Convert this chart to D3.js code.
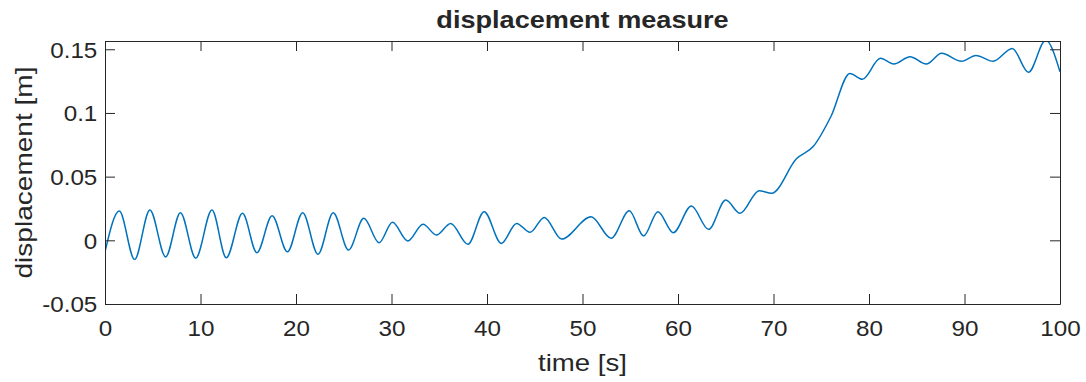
<!DOCTYPE html>
<html>
<head>
<meta charset="utf-8">
<script src="https://cdn.jsdelivr.net/npm/d3@7"></script>
<style>
  body { margin: 0; background: #fff; }
  text { font-family: "Liberation Sans", Arial, sans-serif; fill: #262626; }
</style>
</head>
<body>
<div id="chart-container"></div>
<script>
// time [s] of the read-off turning points of the curve
var times = [0, 1.5, 3.1, 4.7, 6.35, 7.9, 9.5, 11.2, 12.7, 14.4, 15.9, 17.5, 19.1, 20.7, 22.3, 23.9,
  25.5, 27.1, 28.7, 30.1, 31.7, 33.3, 34.7, 36.2, 38.0, 39.7, 41.5, 43.1, 44.5, 46.0, 47.8,
  50.9, 53.0, 54.9, 56.4, 57.9, 59.5, 61.4, 63.2, 65.0, 66.5, 68.5, 69.8, 72.4, 74.2, 76.0,
  78.0, 79.3, 81.2, 82.6, 84.3, 86.0, 87.6, 89.7, 91.2, 93.0, 95.0, 96.7, 98.5, 100];

// displacement [m] at those times
var displacement = [-0.009, 0.023, -0.015, 0.0238, -0.013, 0.0217, -0.014, 0.0238, -0.0137, 0.0212, -0.0097, 0.0193, -0.009, 0.0217, -0.011, 0.0217,
  -0.0076, 0.0173, -0.0019, 0.0141, -0.0005, 0.0126, 0.0042, 0.0133, -0.0031, 0.0225, -0.0024, 0.0133, 0.0063, 0.018, 0.001,
  0.0185, 0.0016, 0.0232, 0.0034, 0.0225, 0.006, 0.0269, 0.0086, 0.0316, 0.0212, 0.039, 0.0369, 0.064, 0.074, 0.097,
  0.131, 0.1264, 0.1429, 0.1384, 0.1441, 0.1384, 0.1468, 0.1406, 0.1452, 0.1406, 0.1507, 0.1319, 0.157, 0.1323];

var xTicks = [0, 10, 20, 30, 40, 50, 60, 70, 80, 90, 100];
var yTicks = [-0.05, 0, 0.05, 0.1, 0.15];
var yTickLabels = ['-0.05', '0', '0.05', '0.1', '0.15'];

var chartTitle = 'displacement measure';
var xLabel = 'time [s]';
var yLabel = 'displacement [m]';

var svgWidth = 1086,
    svgHeight = 382,
    margin = { top: 41, right: 26, bottom: 78, left: 105 },
    width = svgWidth - margin.left - margin.right,
    height = svgHeight - margin.top - margin.bottom;

var svg = d3.select('#chart-container').append('svg')
  .attr('width', svgWidth).attr('height', svgHeight);

var g = svg.append('g').attr('transform', 'translate(' + margin.left + ',' + margin.top + ')');

var x = d3.scaleLinear().domain([0, 100]).range([0, width]);
var y = d3.scaleLinear().domain([-0.05, 0.1565]).range([height, 0]);

var data = times.map(function(t, i) { return { t: t, v: displacement[i] }; });

g.append('clipPath').attr('id', 'plot-clip')
  .append('rect').attr('width', width).attr('height', height);

var line = d3.line()
  .curve(d3.curveMonotoneX)
  .x(function(d) { return x(d.t); })
  .y(function(d) { return y(d.v); });

g.append('path')
  .datum(data)
  .attr('clip-path', 'url(#plot-clip)')
  .attr('fill', 'none')
  .attr('stroke', '#0072BD')
  .attr('stroke-width', 1.5)
  .attr('stroke-linejoin', 'round')
  .attr('d', line);

function styleAxis(sel) {
  sel.selectAll('path, line').attr('stroke', '#262626').attr('stroke-width', 1);
  sel.selectAll('text').style('font-size', '22px').attr('fill', '#262626');
}

var xAxis = g.append('g')
  .attr('transform', 'translate(0,' + height + ')')
  .call(d3.axisBottom(x).tickValues(xTicks).tickSizeInner(-10).tickSizeOuter(0).tickPadding(16));
styleAxis(xAxis);
xAxis.selectAll('text').attr('transform', 'scale(1.1,1)');

var yAxis = g.append('g')
  .call(d3.axisLeft(y).tickValues(yTicks).tickSizeInner(-10).tickSizeOuter(0).tickPadding(7)
    .tickFormat(function(d, i) { return yTickLabels[i]; }));
styleAxis(yAxis);
yAxis.selectAll('text').attr('transform', 'scale(1.1,1)').attr('dy', '0.36em');

var topAxis = g.append('g')
  .call(d3.axisTop(x).tickValues(xTicks).tickSizeInner(-10).tickSizeOuter(0).tickFormat(''));
styleAxis(topAxis);

var rightAxis = g.append('g')
  .attr('transform', 'translate(' + width + ',0)')
  .call(d3.axisRight(y).tickValues(yTicks).tickSizeInner(-10).tickSizeOuter(0).tickFormat(''));
styleAxis(rightAxis);

// title and labels (the reference glyphs run a little wide)
svg.append('g')
  .attr('transform', 'translate(' + (margin.left + width / 2) + ',28) scale(1.13,1)')
  .append('text')
  .attr('text-anchor', 'middle')
  .style('font-size', '24px')
  .style('font-weight', 'bold')
  .attr('fill', '#000')
  .text(chartTitle);

svg.append('g')
  .attr('transform', 'translate(' + (margin.left + width / 2) + ',371) scale(1.2,1)')
  .append('text')
  .attr('text-anchor', 'middle')
  .style('font-size', '23px')
  .text(xLabel);

svg.append('g')
  .attr('transform', 'translate(32,' + (margin.top + height / 2) + ') rotate(-90) scale(1.22,1)')
  .append('text')
  .attr('text-anchor', 'middle')
  .style('font-size', '23px')
  .text(yLabel);
</script>
</body>
</html>
